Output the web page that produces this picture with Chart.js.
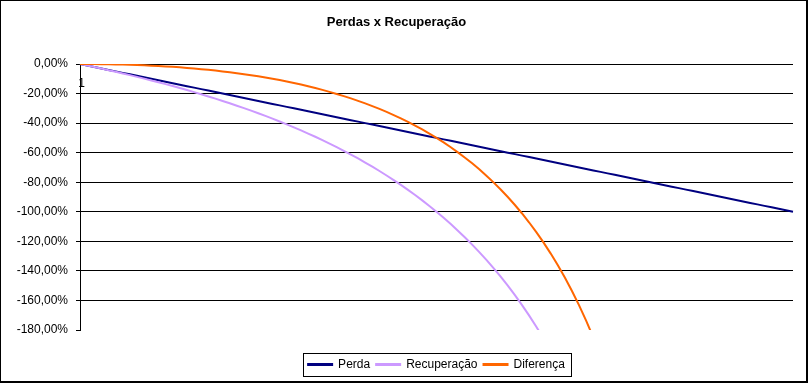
<!DOCTYPE html>
<html><head><meta charset="utf-8">
<style>html,body{margin:0;padding:0;background:#fff}#wrap{width:809px;height:385px;position:relative}</style>
<script src="https://cdn.jsdelivr.net/npm/chart.js@4.4.1/dist/chart.umd.min.js"></script>
</head><body><div id="wrap"><canvas id="c" width="809" height="385"></canvas></div>
<script>
const chartTitle = 'Perdas x Recuperação';
const seriesNames = ['Perda', 'Recuperação', 'Diferença'];
const categories = [1,2,3,4,5,6,7,8,9,10,11,12,13,14,15,16,17,18,19,20,21,22,23,24,25,26,27,28,29,30,31,32,33,34,35,36,37,38,39,40,41,42,43,44,45,46,47,48,49,50,51,52,53,54,55,56,57,58,59,60,61,62,63,64,65,66,67,68,69,70,71,72,73,74,75,76,77,78,79,80,81,82,83,84,85,86,87,88,89,90,91,92,93,94,95,96,97,98,99,100,101];
const perda = [0,-1,-2,-3,-4,-5,-6,-7,-8,-9,-10,-11,-12,-13,-14,-15,-16,-17,-18,-19,-20,-21,-22,-23,-24,-25,-26,-27,-28,-29,-30,-31,-32,-33,-34,-35,-36,-37,-38,-39,-40,-41,-42,-43,-44,-45,-46,-47,-48,-49,-50,-51,-52,-53,-54,-55,-56,-57,-58,-59,-60,-61,-62,-63,-64,-65,-66,-67,-68,-69,-70,-71,-72,-73,-74,-75,-76,-77,-78,-79,-80,-81,-82,-83,-84,-85,-86,-87,-88,-89,-90,-91,-92,-93,-94,-95,-96,-97,-98,-99,-100];
const recuperacao = [0,-1.01,-2.04,-3.09,-4.17,-5.26,-6.38,-7.53,-8.70,-9.89,-11.11,-12.36,-13.64,-14.94,-16.28,-17.65,-19.05,-20.48,-21.95,-23.46,-25.00,-26.58,-28.21,-29.87,-31.58,-33.33,-35.14,-36.99,-38.89,-40.85,-42.86,-44.93,-47.06,-49.25,-51.52,-53.85,-56.25,-58.73,-61.29,-63.93,-66.67,-69.49,-72.41,-75.44,-78.57,-81.82,-85.19,-88.68,-92.31,-96.08,-100.00,-104.08,-108.33,-112.77,-117.39,-122.22,-127.27,-132.56,-138.10,-143.90,-150.00,-156.41,-163.16,-170.27,-177.78,-185.71];
const diferenca = [0,-0.01,-0.04,-0.09,-0.17,-0.26,-0.38,-0.53,-0.70,-0.89,-1.11,-1.36,-1.64,-1.94,-2.28,-2.65,-3.05,-3.48,-3.95,-4.46,-5.00,-5.58,-6.21,-6.87,-7.58,-8.33,-9.14,-9.99,-10.89,-11.85,-12.86,-13.93,-15.06,-16.25,-17.52,-18.85,-20.25,-21.73,-23.29,-24.93,-26.67,-28.49,-30.41,-32.44,-34.57,-36.82,-39.19,-41.68,-44.31,-47.08,-50.00,-53.08,-56.33,-59.77,-63.39,-67.22,-71.27,-75.56,-80.10,-84.90,-90.00,-95.41,-101.16,-107.27,-113.78,-120.71,-128.12,-136.03,-144.50,-153.58,-163.33,-173.83,-185.14];
const yTicks = [0,-20,-40,-60,-80,-100,-120,-140,-160,-180];
const colors = ['#000080', '#CC99FF', '#FF6600'];

const framePlugin = {
  id: 'frame',
  beforeDraw(chart) {
    const ctx = chart.ctx;
    ctx.save(); ctx.fillStyle = '#fff'; ctx.fillRect(0, 0, chart.width, chart.height); ctx.restore();
  },
  afterDraw(chart) {
    const ctx = chart.ctx;
    const hb = chart.legend.legendHitBoxes;
    ctx.save();
    if (hb && hb.length) {
      const l = hb[0].left - 5;
      const last = hb[hb.length - 1];
      const r = last.left + last.width + 6;
      const cy = hb[0].top + hb[0].height / 2;
      ctx.strokeStyle = '#000'; ctx.lineWidth = 1;
      ctx.strokeRect(Math.round(l) + 0.5, Math.round(cy - 11.5) + 0.5, Math.round(r - l), 23);
    }
    ctx.fillStyle = '#000';
    ctx.fillRect(0, 0, 808, 1);
    ctx.fillRect(0, 0, 1, 383);
    ctx.fillRect(806, 0, 2, 383);
    ctx.fillRect(0, 381, 808, 2);
    ctx.restore();
  }
};

const font12 = { family: 'Arial, "Liberation Sans", sans-serif', size: 12 };

new Chart(document.getElementById('c'), {
  type: 'line',
  data: {
    labels: categories,
    datasets: [
      { label: seriesNames[0], data: perda, borderColor: colors[0], backgroundColor: colors[0], order: 3 },
      { label: seriesNames[1], data: recuperacao, borderColor: colors[1], backgroundColor: colors[1], order: 2 },
      { label: seriesNames[2], data: diferenca, borderColor: colors[2], backgroundColor: colors[2], order: 1 }
    ]
  },
  options: {
    responsive: false,
    animation: false,
    events: [],
    devicePixelRatio: 1,
    elements: { line: { borderWidth: 2, tension: 0, fill: false }, point: { radius: 0 } },
    layout: { padding: { left: 0, right: 16, top: 0, bottom: 4.5 } },
    plugins: {
      title: { display: true, text: chartTitle, color: '#000',
        font: { family: 'Arial, "Liberation Sans", sans-serif', size: 13, weight: 'bold' },
        padding: { top: 15, bottom: 33.4 } },
      legend: { position: 'bottom', fullSize: false,
        labels: { boxWidth: 24, boxHeight: 1, padding: 6, color: '#000', font: font12,
          sort: (a, b) => a.datasetIndex - b.datasetIndex } },
      tooltip: { enabled: false }
    },
    scales: {
      x: { type: 'category', position: { y: 0 }, offset: false,
        grid: { display: false, drawTicks: false }, border: { display: false },
        ticks: { autoSkip: false, maxRotation: 0, minRotation: 0, padding: 12, labelOffset: 1.5, color: '#000', font: font12,
          callback: (v, i) => (i === 0 ? String(categories[0]) : '') } },
      x2: { type: 'category', position: 'bottom', labels: categories,
        grid: { display: false, drawTicks: false }, border: { display: false },
        ticks: { display: false },
        afterFit: s => { s.height = 22.5; } },
      y: { min: -180, max: 0,
        afterBuildTicks: s => { s.ticks = yTicks.map(v => ({ value: v })); },
        afterFit: s => { s.width = 80; },
        grid: { color: c => (c.tick && c.tick.value === -180 ? 'rgba(0,0,0,0)' : '#000'), tickColor: '#000', tickLength: 4, lineWidth: 1 },
        border: { display: true, color: '#000', width: 1 },
        ticks: { padding: 8, color: '#000', font: font12,
          callback: v => v.toFixed(2).replace('-0.00', '0.00').replace('.', ',') + '%' } }
    }
  },
  plugins: [framePlugin]
});
</script>
</body></html>
